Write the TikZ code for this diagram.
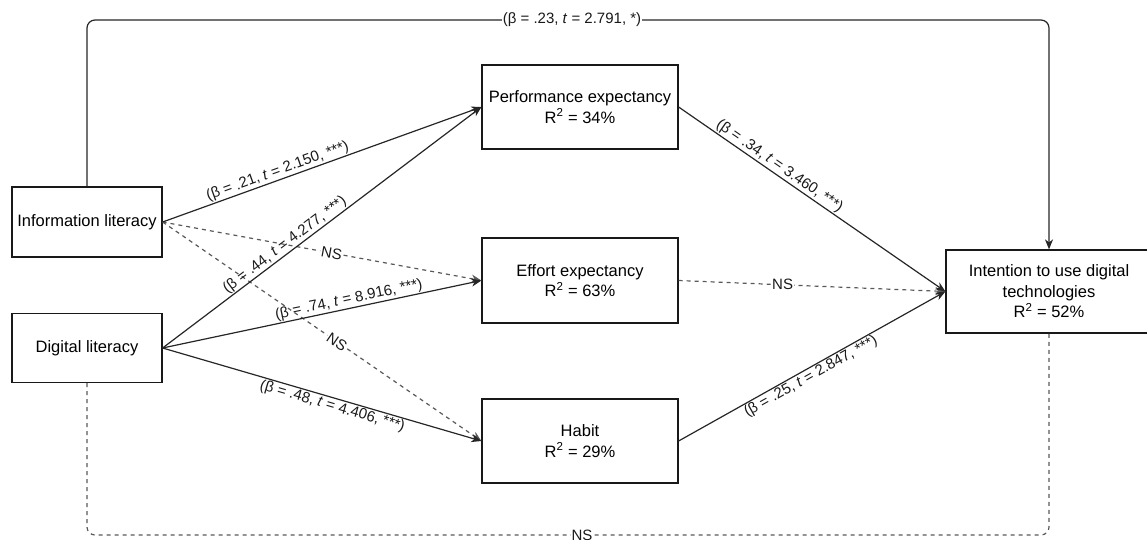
\documentclass[tikz,border=0pt]{standalone}
\usepackage{fontspec}
\setmainfont{Liberation Sans}
\usetikzlibrary{arrows.meta}
\begin{document}
\begin{tikzpicture}[x=1pt,y=-1pt,
  box/.style={draw=black!90, line width=1.2pt, fill=white, align=center, inner sep=0pt,
    font=\fontsize{16.5}{20.5}\selectfont},
  sol/.style={draw=black!85, line width=1.2pt},
  dsh/.style={draw=black!65, line width=1.2pt, dash pattern=on 4pt off 4pt},
  arr/.style={-{Stealth[length=10pt,width=8pt,inset=3pt]}},
  lab/.style={font=\fontsize{15}{18}\selectfont, sloped, inner sep=1pt, text=black!90},
  ns/.style={font=\fontsize{15}{18}\selectfont, fill=white, inner sep=1pt, text=black!90}]
\useasboundingbox (0,0) rectangle (1147,540);
\coordinate (ty) at (0,20);
\coordinate (by) at (0,535);
% nodes
\node[box, minimum width=150pt, minimum height=70pt] (info) at (87,222) {Information literacy};
\node[box, minimum width=150pt, minimum height=69pt] (dig) at (87,348) {Digital literacy};
\node[box, minimum width=196pt, minimum height=84pt] (perf) at (580,107) {Performance expectancy\\R\textsuperscript{2} = 34\%};
\node[box, minimum width=196pt, minimum height=85pt] (eff) at (580,280.5) {Effort expectancy\\R\textsuperscript{2} = 63\%};
\node[box, minimum width=196pt, minimum height=84pt] (hab) at (580,441) {Habit\\R\textsuperscript{2} = 29\%};
\node[box, minimum width=206pt, minimum height=83pt] (int) at (1049,291.5) {Intention to use digital\\technologies\\R\textsuperscript{2} = 52\%};
% top and bottom connectors
\draw[sol, arr, rounded corners=8pt] (info.north) -- (info.north |- ty) -- (int.north |- ty) -- (int.north);
\node[ns] (toplab) at (572,20) {(β = .23, \textit{t} = 2.791, *)};
\draw[dsh, rounded corners=8pt] (dig.south) -- (dig.south |- by) -- (int.south |- by) -- (int.south);
\node[ns] (botlab) at (582,535) {NS};
% dashed connectors
\draw[dsh, arr] (info.east) -- node[ns, sloped, pos=0.53] (ns1) {NS} (eff.west);
\draw[dsh, arr] (info.east) -- node[ns, sloped, pos=0.547] (ns2) {NS} (hab.west);
\draw[dsh, arr] (eff.east) -- node[ns, pos=0.39] (ns3) {NS} (int.west);
% solid connectors
\draw[sol, arr] (info.east) -- node[lab, pos=0.37, above] (l1) {(β = .21, \textit{t} = 2.150, ***)} (perf.west);
\draw[sol, arr] (dig.east) -- node[lab, pos=0.40, above] (l2) {(β = .44, \textit{t} = 4.277, ***)} (perf.west);
\draw[sol, arr] (dig.east) -- node[lab, pos=0.59, above] (l3) {(β = .74, \textit{t} = 8.916, ***)} (eff.west);
\draw[sol, arr] (dig.east) -- node[lab, pos=0.54, below] (l4) {(β = .48, \textit{t} = 4.406, ***)} (hab.west);
\draw[sol, arr] (perf.east) -- node[lab, pos=0.36, above] (l5) {(β = .34, \textit{t} = 3.460, ***)} (int.west);
\draw[sol, arr] (hab.east) -- node[lab, pos=0.48, below] (l6) {(β = .25, \textit{t} = 2.847, ***)} (int.west);
\end{tikzpicture}
\end{document}
